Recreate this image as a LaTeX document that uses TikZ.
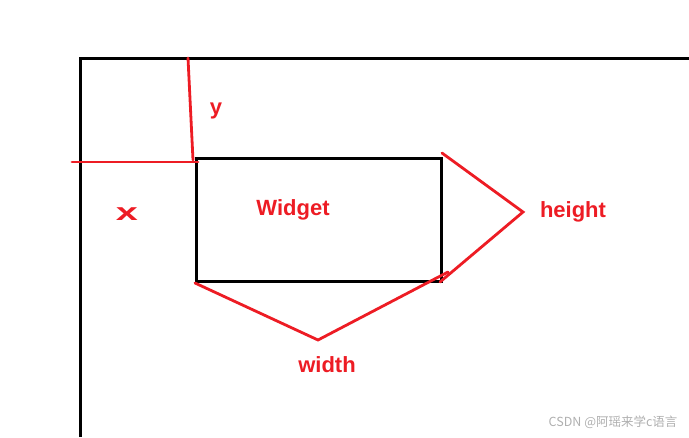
\documentclass[tikz,border=0pt]{standalone}
\usepackage{fontspec}
\setmainfont{Liberation Sans}
\newfontfamily\cjk{Noto Sans CJK SC}
\definecolor{paintred}{RGB}{237,28,36}
\definecolor{markgray}{RGB}{175,175,175}
\tikzset{
  frameline/.style={line width=3pt, black},
  markline/.style={line width=2.8pt, paintred, line cap=round},
  marklabel/.style={text=paintred, font=\fontsize{22}{26}\selectfont\bfseries, inner sep=0pt},
}

\begin{document}
\begin{tikzpicture}[x=1pt, y=-1pt]
    \useasboundingbox (0,0) rectangle (689,437);

    % Parent window border
    \draw[frameline] (80,437) -- (80,58) -- (689,58);

    % Widget box
    \node[draw, frameline, minimum width=245pt, minimum height=123pt,
          anchor=north west, inner sep=0pt] (widget) at (195,157) {};

    % Labels
    \node[marklabel] (wname) at (293,210) {Widget};
    \node[marklabel] (ylab) at (216,111) {y};
    \node[marklabel, xscale=1.8, yscale=1.1] (xlab) at (127,214) {x};
    \node[marklabel] (hlab) at (573,212) {height};
    \node[marklabel] (wlab) at (327,365) {width};

    % Tips of the red marks
    \coordinate (ytop) at (188,58);
    \coordinate (xleft) at (72,162);
    \coordinate (htip) at (523,212);
    \coordinate (wtip) at (318,340);
    \coordinate (wend) at (448,272);

    % Red marks
    \draw[markline] (ytop) -- ([shift={(-2,3)}]widget.north west);
    \draw[markline] (xleft) -- ([shift={(3,5)}]widget.north west);
    \draw[markline] ([shift={(-1,-4)}]widget.north east) -- (htip)
        -- ([shift={(-3,-1)}]widget.south east);
    \draw[markline] (widget.south west) -- (wtip) -- (wend);

    % Watermark
    \node[text=markgray, font=\cjk\fontsize{12.5}{14}\selectfont, anchor=east]
        (mark) at (681,422) {CSDN @阿瑶来学c语言};
\end{tikzpicture}
\end{document}
